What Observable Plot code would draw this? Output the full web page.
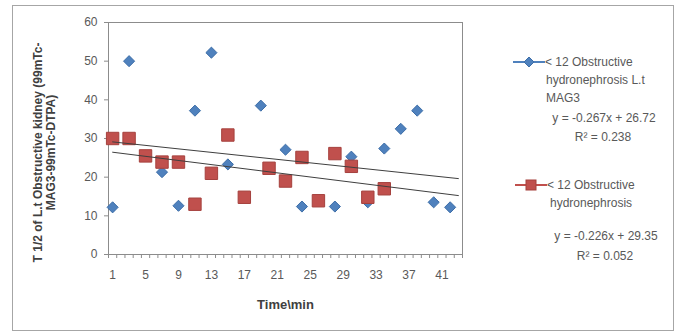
<!DOCTYPE html>
<html><head><meta charset="utf-8">
<script src="https://cdn.jsdelivr.net/npm/d3@7"></script>
<script src="https://cdn.jsdelivr.net/npm/@observablehq/plot@0.6"></script>
<style>
body{margin:0;background:#fff;}
#wrap{position:relative;width:682px;height:336px;font-family:"Liberation Sans",Arial,sans-serif;}
#border{position:absolute;left:12px;top:5px;width:662px;height:326px;border:1px solid #a6a6a6;box-sizing:border-box;pointer-events:none;}
.lg{position:absolute;font-size:12px;color:#595959;line-height:18px;white-space:nowrap;}
</style></head><body><div id="wrap"><div id="border"></div></div>
<script>
// ---- data ----
const blueName = "< 12 Obstructive hydronephrosis L.t MAG3";
const blueTime = [1, 3, 7, 9, 11, 13, 15, 19, 22, 24, 28, 30, 32, 34, 36, 38, 40, 42];
const blueVal  = [12.2, 50, 21.3, 12.6, 37.2, 52.2, 23.3, 38.5, 27.1, 12.4, 12.4, 25.3, 13.5, 27.4, 32.5, 37.2, 13.5, 12.2];
const redName = "< 12 Obstructive hydronephrosis";
const redTime = [1, 3, 5, 7, 9, 11, 13, 15, 17, 20, 22, 24, 26, 28, 30, 32, 34];
const redVal  = [30, 30, 25.5, 23.9, 23.9, 13, 21, 30.9, 14.8, 22.3, 19, 25.1, 13.9, 26.1, 22.8, 14.8, 17];
const trendSlope = [-0.267, -0.226];   // blue, red
const trendIntercept = [26.72, 29.35];
const trendEq = ["y = -0.267x + 26.72", "y = -0.226x + 29.35"];
const trendR2 = ["0.238", "0.052"];
const xTickLabels = [1, 5, 9, 13, 17, 21, 25, 29, 33, 37, 41];
const yTicks = [0, 10, 20, 30, 40, 50, 60];
const categoryCount = 43;
const yTitle = "T 1/2 of L.t Obstructive kidney (99mTc-\nMAG3-99mTc-DTPA)";
const xTitle = "Time\\min";

const blueColor = "#4F81BD", redColor = "#C0504D";

const blueData = blueTime.map((t, i) => ({t, v: blueVal[i]}));
const redData = redTime.map((t, i) => ({t, v: redVal[i]}));
const trendData = [];
trendSlope.forEach((m, k) => {
  [1, categoryCount].forEach(t => trendData.push({k, t, v: m * t + trendIntercept[k]}));
});

const chart = Plot.plot({
  width: 682, height: 336,
  marginLeft: 108, marginRight: 220, marginTop: 22, marginBottom: 82,
  style: {fontFamily: "'Liberation Sans', Arial, sans-serif", color: "#595959", background: "transparent"},
  x: {domain: [0.5, categoryCount + 0.5]},
  y: {domain: [0, 60]},
  marks: [
    Plot.frame({stroke: "#8c8c8c"}),
    Plot.axisY({ticks: yTicks, tickSize: 4, tickPadding: 7, fontSize: 12, label: null, stroke: "#8c8c8c"}),
    Plot.axisX({ticks: d3.range(0.5, categoryCount + 1), tickSize: 4, tickFormat: () => "", label: null, stroke: "#8c8c8c"}),
    Plot.text(xTickLabels, {x: d => d, text: d => String(d), frameAnchor: "bottom", dy: 24, fontSize: 12, fill: "#595959"}),
    Plot.dot(blueData, {x: "t", y: "v", symbol: "diamond2", r: 5, fill: blueColor, stroke: "#3d6ea8", strokeWidth: 1}),
    Plot.dot(redData, {x: "t", y: "v", symbol: "square", r: 7, fill: redColor, stroke: "#a5403d", strokeWidth: 1}),
    Plot.line(trendData, {x: "t", y: "v", z: "k", stroke: "#3f3f3f", strokeWidth: 1}),
    Plot.text([yTitle], {frameAnchor: "left", textAnchor: "middle", rotate: -90, dx: -64, dy: 14, fontSize: 12, fontWeight: "bold", lineHeight: 1.05, fill: "#404040"}),
    Plot.text([xTitle], {frameAnchor: "bottom", dy: 54, fontSize: 13, fontWeight: "bold", fill: "#404040"})
  ]
});
const wrap = document.getElementById("wrap");
wrap.insertBefore(chart, wrap.firstChild);

// ---- legend ----
function marker(color, kind) {
  const sym = kind === "diamond"
    ? `<path d="M16,4L21,9L16,14L11,9Z" fill="${color}" stroke="#3d6ea8"/>`
    : `<rect x="11" y="4" width="10" height="10" fill="${color}" stroke="#a5403d"/>`;
  return `<svg width="32" height="18" style="vertical-align:top"><line x1="0" x2="32" y1="9" y2="9" stroke="${color}" stroke-width="2"/>${sym}</svg>`;
}
function addLine(html, left, top, center) {
  const d = document.createElement("div");
  d.className = "lg";
  d.innerHTML = html;
  d.style.top = top + "px";
  if (center) { d.style.left = (center - 80) + "px"; d.style.width = "160px"; d.style.textAlign = "center"; }
  else d.style.left = left + "px";
  wrap.appendChild(d);
}
const bw = blueName.split(" ");
addLine(marker(blueColor, "diamond") + "<span>" + bw.slice(0, 3).join(" ") + "</span>", 513, 53);
addLine(bw.slice(3, 5).join(" "), 546, 71);
addLine(bw.slice(5).join(" "), 546, 89);
addLine(trendEq[0], 0, 109, 604);
addLine("R² = " + trendR2[0], 0, 128, 603);
const rw = redName.split(" ");
addLine(marker(redColor, "square") + "<span>" + rw.slice(0, 3).join(" ") + "</span>", 515, 176);
addLine(rw.slice(3).join(" "), 550, 194);
addLine(trendEq[1], 0, 227, 606);
addLine("R² = " + trendR2[1], 0, 247, 605);
</script>
</body></html>
